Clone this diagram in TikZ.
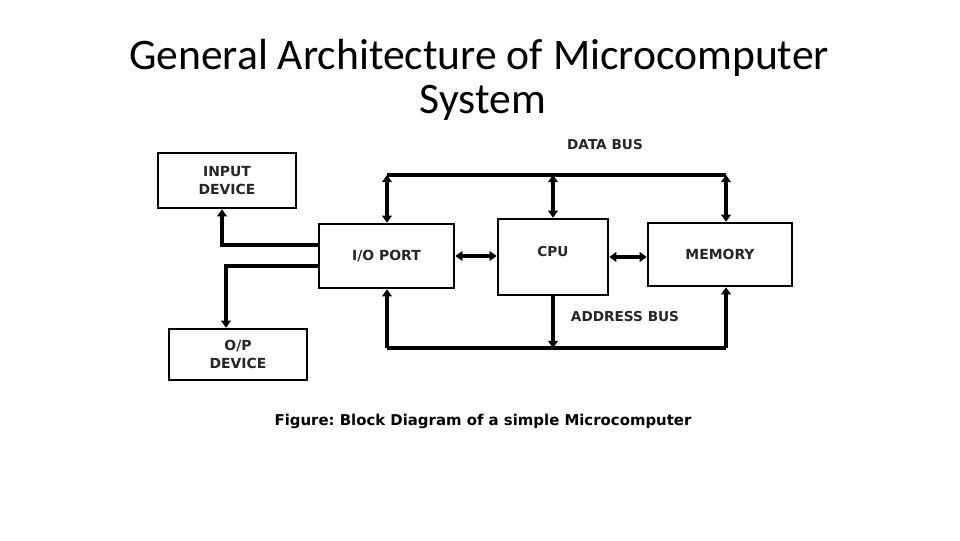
\documentclass[tikz,border=0pt]{standalone}
\usepackage{fontspec}
\usepackage{tikz}
\usetikzlibrary{arrows.meta}
\setmainfont{DejaVu Sans}
\newfontfamily\titlefont{Carlito}
\frenchspacing

% one pixel of the 960x540 sheet
\newdimen\px \px=0.025cm

\tikzset{
  block/.style={draw=black, line width=1.8pt, fill=white, inner sep=0pt,
    font=\bfseries\fontsize{9.9}{12.8}\selectfont, text=black!85, align=center},
  bus/.style={line width=2.2pt},
  >={Triangle[length=5pt,width=6.8pt]},
  buslabel/.style={font=\bfseries\fontsize{9.7}{11}\selectfont, text=black!85}
}

\begin{document}
\begin{tikzpicture}[x=0.025cm, y=-0.025cm]
\useasboundingbox (0,0) rectangle (960,540);

% title
\node[font=\titlefont\fontsize{31}{34}\selectfont, anchor=base] (title1) at (479,69) {General Architecture of Microcomputer};
\node[font=\titlefont\fontsize{31}{34}\selectfont, anchor=base] (title2) at (483,113) {System};

% blocks
\node[block, minimum width=138\px, minimum height=55\px] (in) at (227,180.5) {INPUT\\DEVICE};
\node[block, minimum width=135\px, minimum height=64\px] (io) at (386.5,256) {I/O PORT};
\node[block, minimum width=138\px, minimum height=51\px] (op) at (238,354.5) {O/P\\DEVICE};
\node[block, minimum width=110\px, minimum height=76\px,
      label={[buslabel, yshift=4pt]center:CPU}] (cpu) at (553,257) {};
\node[block, minimum width=144\px, minimum height=63\px] (mem) at (720,254.5) {MEMORY};

% bus ends
\coordinate (dl) at (387,175);
\coordinate (dr) at (726,175);
\coordinate (al) at (387,348);
\coordinate (ar) at (726,348);
\coordinate (inbend) at (222,245);
\coordinate (opbend) at (226,266);

% data bus
\draw[bus] (dl) -- (dr);
\draw[bus, <->] (dl) -- (dl |- io.north);
\draw[bus, <->] (cpu.north |- dl) -- (cpu.north);
\draw[bus, <->] (dr) -- (dr |- mem.north);
\node[buslabel] (dbus) at (605,145) {DATA BUS};

% address bus
\draw[bus] (al) -- (ar);
\draw[bus, ->] (al) -- (al |- io.south);
\draw[bus, ->] (cpu.south) -- (cpu.south |- al);
\draw[bus, ->] (ar) -- (ar |- mem.south);
\node[buslabel] (abus) at (625,317) {ADDRESS BUS};

% block to block
\draw[bus, <->] (io.east) -- (io.east -| cpu.west);
\draw[bus, <->] (cpu.east) -- (cpu.east -| mem.west);

% i/o devices
\draw[bus, ->] (io.west |- inbend) -- (inbend) -- (inbend |- in.south);
\draw[bus, ->] (io.west |- opbend) -- (opbend) -- (opbend |- op.north);

% caption
\node[font=\bfseries\fontsize{10.6}{12}\selectfont] (caption) at (483,421) {Figure: Block Diagram of a simple Microcomputer};

\end{tikzpicture}
\end{document}
